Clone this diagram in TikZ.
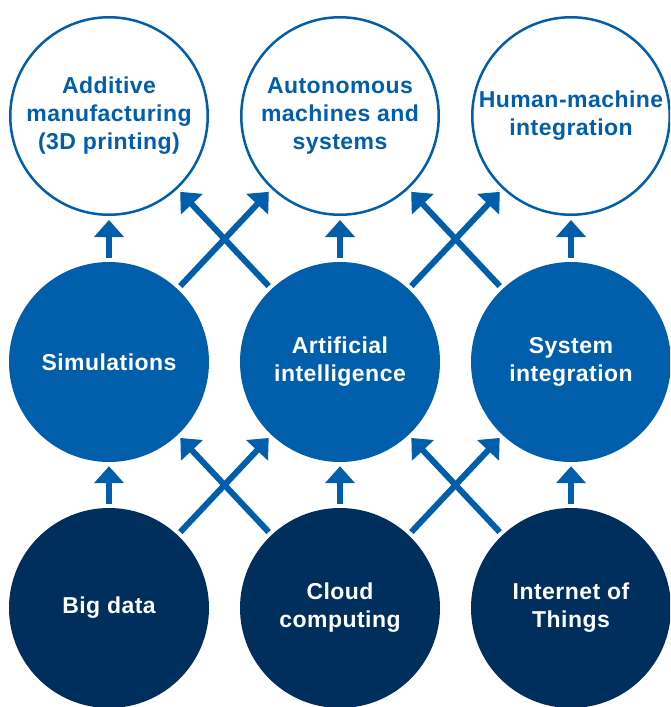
\documentclass[tikz,border=0pt]{standalone}
\usepackage{fontspec}
\setmainfont{Liberation Sans}[LetterSpace=2]
\usetikzlibrary{arrows.meta}
\definecolor{midblue}{HTML}{005EAA}
\definecolor{navy}{HTML}{002E5D}
\tikzset{
  ring/.style={circle, draw=midblue, line width=2.5pt, fill=white,
    minimum size=197.5pt, inner sep=0pt, text=midblue},
  disc/.style={circle, fill=midblue, minimum size=200pt, inner sep=0pt, text=white},
  base/.style={circle, fill=navy, minimum size=200pt, inner sep=0pt, text=white},
  every node/.append style={align=center, font=\fontsize{23}{28}\selectfont\bfseries},
  arr/.style={draw=midblue, line width=6pt,
    -{Triangle[width=29pt,length=17pt]}, shorten <=4pt, shorten >=4pt}
}
\begin{document}
\begin{tikzpicture}[x=1pt,y=-1pt]
  \useasboundingbox (0,0) rectangle (670,707);
  \begin{scope}
    \clip (0,0) rectangle (670,707);
    % top row: outcomes
    \node[ring] (am)   at (109,116) {Additive\\manufacturing\\(3D printing)};
    \node[ring] (auto) at (340,116) {Autonomous\\machines and\\systems};
    \node[ring] (hmi)  at (571,116) {Human-machine\\integration};
    % middle row
    \node[disc] (sim)  at (109,362) {Simulations};
    \node[disc] (ai)   at (340,362) {Artificial\\intelligence};
    \node[disc] (si)   at (571,362) {System\\integration};
    % bottom row: foundations
    \node[base] (bd)   at (109,608) {Big data};
    \node[base] (cc)   at (340,608) {Cloud\\computing};
    \node[base] (iot)  at (571,608) {Internet of\\Things};
    % links middle -> top
    \draw[arr] (sim) -- (am);
    \draw[arr] (sim) -- (auto);
    \draw[arr] (ai)  -- (am);
    \draw[arr] (ai)  -- (auto);
    \draw[arr] (ai)  -- (hmi);
    \draw[arr] (si)  -- (auto);
    \draw[arr] (si)  -- (hmi);
    % links bottom -> middle
    \draw[arr] (bd)  -- (sim);
    \draw[arr] (bd)  -- (ai);
    \draw[arr] (cc)  -- (sim);
    \draw[arr] (cc)  -- (ai);
    \draw[arr] (cc)  -- (si);
    \draw[arr] (iot) -- (ai);
    \draw[arr] (iot) -- (si);
  \end{scope}
\end{tikzpicture}
\end{document}
